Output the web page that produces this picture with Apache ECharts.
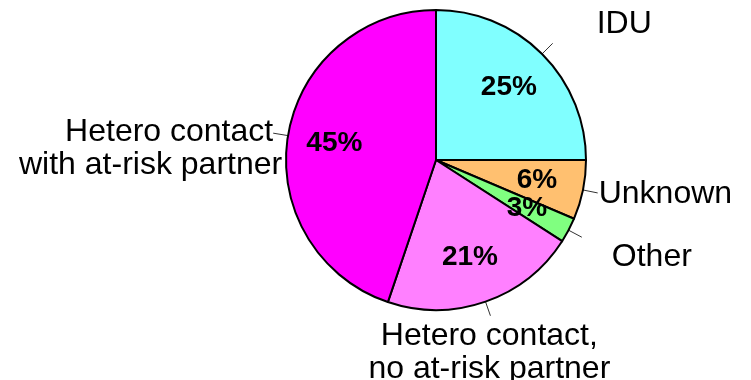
<!DOCTYPE html>
<html><head><meta charset="utf-8">
<script src="https://cdn.jsdelivr.net/npm/echarts@6/dist/echarts.min.js"></script>
<style>html,body{margin:0;padding:0;background:#fff}#c{width:751px;height:380px}</style>
</head><body><div id="c"></div>
<script>
// ---- data ----
const categories = ['IDU', 'Unknown', 'Other', 'Hetero contact, no at-risk partner', 'Hetero contact with at-risk partner'];
const values = [25, 6.4, 2.7, 21.1, 44.8];
const outerLabelText = ['IDU', 'Unknown', 'Other', '{c|Hetero contact,}\n{c|no at-risk partner}', '{a|Hetero contact}\n{b|with at-risk partner}'];

// ---- styling ----
const colors = ['#80FFFF', '#FFC070', '#80FF80', '#FF80FF', '#FF00FF'];
const labelShift = [[39, -19], [-4, 1], [25, 20], [-127, 37], [14, 16]];
const FONT = '"Liberation Sans", Arial, Helvetica, sans-serif';
const center = [436, 160];
const R = 150;

const pieData = categories.map((name, i) => ({
  name, value: values[i],
  itemStyle: { color: colors[i] },
  label: { formatter: outerLabelText[i] }
}));
const innerData = categories.map((name, i) => ({ name, value: values[i] }));

const rich = {
  a: { fontSize: 32, lineHeight: 33, fontFamily: FONT, color: '#000', padding: [0, 9, 0, 0] },
  b: { fontSize: 32, lineHeight: 33, fontFamily: FONT, color: '#000' },
  c: { fontSize: 32, lineHeight: 33, fontFamily: FONT, color: '#000', align: 'center' }
};

const chart = echarts.init(document.getElementById('c'), null, { renderer: 'canvas' });
chart.setOption({
  animation: false,
  backgroundColor: '#fff',
  series: [
    {
      type: 'pie',
      center: center,
      radius: R,
      startAngle: 90,
      clockwise: true,
      avoidLabelOverlap: false,
      data: pieData,
      itemStyle: { borderColor: '#000', borderWidth: 2 },
      label: {
        show: true, position: 'outside', color: '#000', fontSize: 32, lineHeight: 33,
        fontFamily: FONT, overflow: 'none', distanceToLabelLine: 5, rich: rich
      },
      labelLine: { show: true, length: 15, length2: 0, lineStyle: { color: '#333', width: 1 } },
      labelLayout: function (p) {
        const s = labelShift[p.dataIndex];
        return { dx: s[0], dy: s[1], hideOverlap: false };
      },
      emphasis: { disabled: true }
    },
    {
      type: 'pie',
      center: center,
      radius: [R / 3, R],
      startAngle: 90,
      clockwise: true,
      avoidLabelOverlap: false,
      silent: true,
      z: 5,
      data: innerData,
      itemStyle: { color: 'rgba(0,0,0,0)', borderWidth: 0 },
      label: {
        show: true, position: 'inside', color: '#000', fontSize: 28, fontWeight: 'bold',
        fontFamily: FONT, overflow: 'none',
        formatter: p => Math.round(p.value) + '%'
      },
      labelLayout: { hideOverlap: false },
      labelLine: { show: false },
      emphasis: { disabled: true }
    }
  ]
});
</script>
</body></html>
